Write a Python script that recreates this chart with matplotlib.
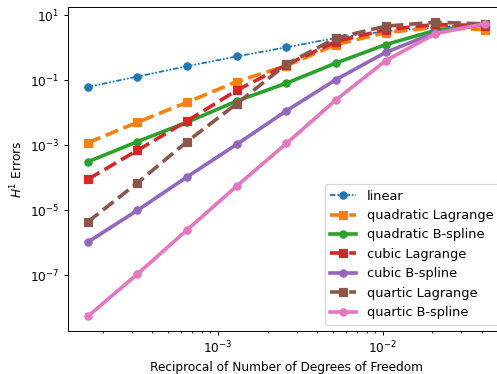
import numpy as np
import matplotlib
matplotlib.use("Agg")
import matplotlib.pyplot as plt

# number of degrees of freedom (doubling each refinement)
ndof = [6144, 3072, 1536, 768, 384, 192, 96, 48, 24]

linear = [0.062, 0.13, 0.27, 0.54, 1.03, 2.0, 3.2, 4.2, 5.5]
quad_lagrange = [1.2e-3, 5.1e-3, 0.021, 0.091, 0.28, 1.25, 2.9, 4.2, 3.6]
quad_bspline = [3.1e-4, 1.3e-3, 5.1e-3, 0.023, 0.081, 0.34, 1.25, 3.4, 5.2]
cubic_lagrange = [9.0e-5, 7.0e-4, 5.6e-3, 0.049, 0.30, 1.55, 3.6, 5.2, 4.8]
cubic_bspline = [1.05e-6, 1.0e-5, 1.07e-4, 1.07e-3, 0.0115, 0.105, 0.72, 2.9, 5.4]
quartic_lagrange = [4.4e-6, 7.0e-5, 1.3e-3, 0.019, 0.31, 2.0, 4.6, 6.1, 5.4]
quartic_bspline = [5.5e-9, 1.1e-7, 2.5e-6, 5.6e-5, 1.14e-3, 0.025, 0.40, 2.7, 5.5]

x = 1.0 / np.array(ndof)

DPI = 87
fig = plt.figure(figsize=(497 / DPI, 374 / DPI), dpi=DPI)
ax = fig.add_axes([0.1368, 0.115, 0.879, 0.865])

ax.loglog(x, linear, "o", color="C0", linestyle=(0, (3, 1, 1, 1, 1, 1)),
          linewidth=1.5, markersize=6, label="linear")
ax.loglog(x, quad_lagrange, "s--", color="C1", linewidth=3, markersize=6,
          label="quadratic Lagrange")
ax.loglog(x, quad_bspline, "o-", color="C2", linewidth=3, markersize=6,
          label="quadratic B-spline")
ax.loglog(x, cubic_lagrange, "s--", color="C3", linewidth=3, markersize=6,
          label="cubic Lagrange")
ax.loglog(x, cubic_bspline, "o-", color="C4", linewidth=3, markersize=6,
          label="cubic B-spline")
ax.loglog(x, quartic_lagrange, "s--", color="C5", linewidth=3, markersize=6,
          label="quartic Lagrange")
ax.loglog(x, quartic_bspline, "o-", color="C6", linewidth=3, markersize=6,
          label="quartic B-spline")

ax.set_xlabel("Reciprocal of Number of Degrees of Freedom")
ax.set_ylabel("$H^1$ Errors")
ax.legend(loc="lower right", fontsize=10.7)

fig.savefig("out.png", dpi=DPI)
